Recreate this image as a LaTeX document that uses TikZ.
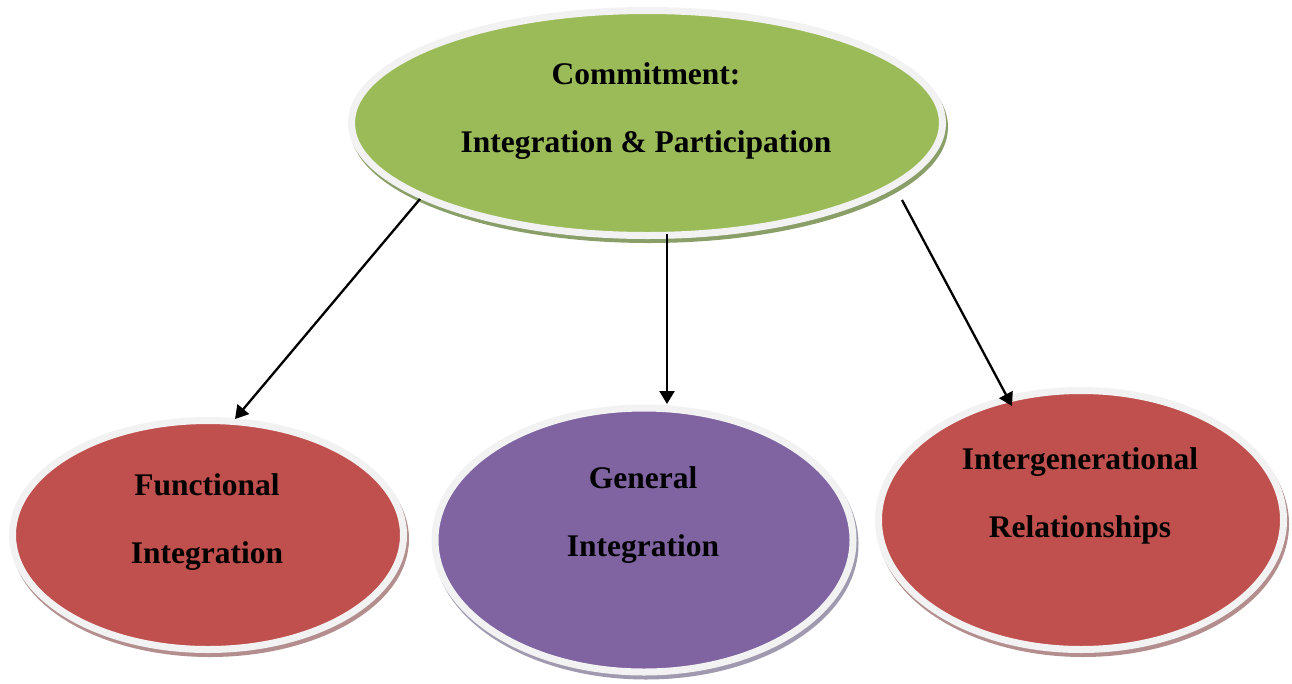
\documentclass[tikz,border=0pt]{standalone}
\usepackage{fontspec}
\setmainfont{Liberation Serif}
\usetikzlibrary{shapes.geometric,arrows.meta,shadows}
\definecolor{rimgray}{HTML}{F2F2F2}
\definecolor{cgreen}{HTML}{9BBB59}
\definecolor{cred}{HTML}{C0504D}
\definecolor{cpurple}{HTML}{8064A2}
\definecolor{sgreen}{HTML}{8A9E68}
\definecolor{sred}{HTML}{B48E8E}
\definecolor{spurple}{HTML}{A09AB0}
\begin{document}
\begin{tikzpicture}[x=1pt,y=-1pt,
  bubble/.style={ellipse, draw=rimgray, line width=7pt, inner sep=0pt, outer sep=0pt},
  shad/.style={general shadow={shadow xshift=2pt, shadow yshift=-4pt, fill=#1, draw=#1, line width=7pt}},
  lbl/.style={font=\fontsize{31.5}{68}\selectfont\bfseries, align=center, text=black, inner sep=0pt},
  conn/.style={line width=2.3pt, -{Triangle[length=13pt,width=15pt]}}]
\useasboundingbox (0,0) rectangle (1292,683);

\node[bubble, shad=sgreen, fill=cgreen, minimum width=591pt, minimum height=225pt] (top) at (647,123) {};
\node[bubble, shad=sred, fill=cred, minimum width=391pt, minimum height=229pt] (left) at (208,535) {};
\node[bubble, shad=spurple, fill=cpurple, minimum width=418pt, minimum height=264pt] (mid) at (644,540) {};
\node[bubble, shad=sred, fill=cred, minimum width=405pt, minimum height=259pt] (right) at (1081,520) {};

\node[lbl] (topT) at (646,111) {Commitment:\\Integration \& Participation};
\node[lbl] (leftT) at (207,522) {Functional\\Integration};
\node[lbl] (midT) at (643,515) {General\\Integration};
\node[lbl] (rightT) at (1080,496) {Intergenerational\\Relationships};

\draw[conn] ([shift={(-227,76)}]top.center) -- ([shift={(27,-116)}]left.center);
\draw[conn] ([shift={(20,111)}]top.center) -- ([shift={(23,-136)}]mid.center);
\draw[conn] ([shift={(255,77)}]top.center) -- ([shift={(-69,-114)}]right.center);
\end{tikzpicture}
\end{document}
